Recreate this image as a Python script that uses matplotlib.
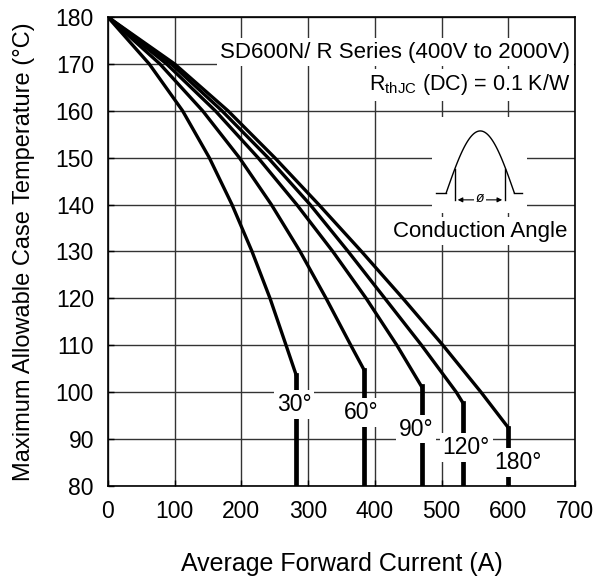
import matplotlib

matplotlib.use("Agg")
from matplotlib import pyplot as plt
from matplotlib.patches import Rectangle
import numpy as np

# temperature rows (deg C), shared by all curves
temps = [180, 170, 160, 150, 140, 130, 120, 110, 100]

# average forward current (A) at each temperature row, per conduction angle
current_30 = [0, 62, 112, 152, 186, 216, 243, 267]
current_60 = [0, 78, 142, 197, 245, 288, 327, 364]
current_90 = [0, 88, 161, 225, 283, 337, 387, 433]
current_120 = [0, 95, 171, 240, 303, 360, 415, 470, 522]
current_180 = [0, 100, 180, 250, 316, 380, 442, 502, 559]

# where each curve turns into a vertical drop
angles = ["30°", "60°", "90°", "120°", "180°"]
end_current = [282, 384, 470, 532, 600]
end_temp = [103.7, 104.7, 101.2, 97.7, 92.4]

# label positions for the angle tags
label_x = [279, 380, 462, 537, 614]
label_y = [97.3, 95.6, 92.1, 88.2, 85.0]

plt.rcParams["font.family"] = ["Liberation Sans", "DejaVu Sans"]
plt.rcParams["mathtext.fontset"] = "custom"
plt.rcParams["mathtext.rm"] = "Liberation Sans"
plt.rcParams["mathtext.it"] = "Liberation Sans:italic"

fig = plt.figure(figsize=(5.99, 5.77), dpi=100)
ax = fig.add_axes([0.18, 0.158, 0.78, 0.8125])

ax.set_xlim(0, 700)
ax.set_ylim(80, 180)
ax.set_xticks(range(0, 701, 100))
ax.set_yticks(range(80, 181, 10))
ax.grid(True, color="#333333", linewidth=1.0, zorder=0)
ax.set_axisbelow(True)
for spine in ax.spines.values():
    spine.set_linewidth(1.2)
ax.tick_params(direction="in", length=4, width=1, labelsize=16.5, pad=10)

curves = [current_30, current_60, current_90, current_120, current_180]
for cur, ec, et in zip(curves, end_current, end_temp):
    xs = list(cur) + [ec]
    ys = temps[: len(cur)] + [et]
    ax.plot(xs, ys, color="black", linewidth=2.4, solid_joinstyle="round", zorder=3)
    ax.plot([ec, ec], [et, 80], color="black", linewidth=3.4, zorder=3)

for name, lx, ly in zip(angles, label_x, label_y):
    ax.text(lx, ly, name, fontsize=16.5, ha="center", va="center", zorder=5,
            bbox=dict(boxstyle="square,pad=0.12", facecolor="white", edgecolor="none"))

ax.set_xlabel("Average Forward Current (A)", fontsize=18, labelpad=21)
ax.set_ylabel("Maximum Allowable Case Temperature (°C)", fontsize=17, labelpad=15)

# header text
ax.text(0.99, 0.925, "SD600N/ R Series (400V to 2000V)", transform=ax.transAxes,
        fontsize=16, ha="right", va="center", zorder=5,
        bbox=dict(boxstyle="square,pad=0.15", facecolor="white", edgecolor="none"))
ax.text(0.99, 0.855, r"R$_{\mathrm{thJC}}$ (DC) = 0.1 K/W", transform=ax.transAxes,
        fontsize=15.5, ha="right", va="center", zorder=5,
        bbox=dict(boxstyle="square,pad=0.15", facecolor="white", edgecolor="none"))

# conduction angle icon
ax.add_patch(Rectangle((486, 138.2), 142, 20.5, facecolor="white", edgecolor="none", zorder=1))
base, height = 142.5, 13.2
x0, x1 = 507, 609
cut0, cut1 = 520, 595
sx = np.linspace(x0, x1, 80)
sy = base + height * np.sin(np.pi * (sx - x0) / (x1 - x0))
ax.plot(sx, sy, color="black", linewidth=1.0, zorder=4)
ax.plot([492, x0], [base, base], color="black", linewidth=1.0, zorder=4)
ax.plot([x1, 621], [base, base], color="black", linewidth=1.0, zorder=4)
cut_y = base + height * np.sin(np.pi * (cut0 - x0) / (x1 - x0))
for cx in (cut0, cut1):
    ax.plot([cx, cx], [base - 1.5, cut_y], color="black", linewidth=1.0, zorder=4)
ax.annotate("", xy=(cut0, 141.0), xytext=(557.5, 141.0),
            arrowprops=dict(arrowstyle="-|>", color="black", lw=0.8, mutation_scale=7), zorder=4)
ax.annotate("", xy=(cut1, 141.0), xytext=(557.5, 141.0),
            arrowprops=dict(arrowstyle="-|>", color="black", lw=0.8, mutation_scale=7), zorder=4)
ax.text(557.5, 141.3, "ø", fontsize=10, ha="center", va="center", style="italic", zorder=5,
        bbox=dict(boxstyle="square,pad=0.1", facecolor="white", edgecolor="none"))
ax.text(557.5, 134.3, "Conduction Angle", fontsize=16, ha="center", va="center", zorder=5,
        bbox=dict(boxstyle="square,pad=0.15", facecolor="white", edgecolor="none"))

fig.savefig("out.png", dpi=100)
